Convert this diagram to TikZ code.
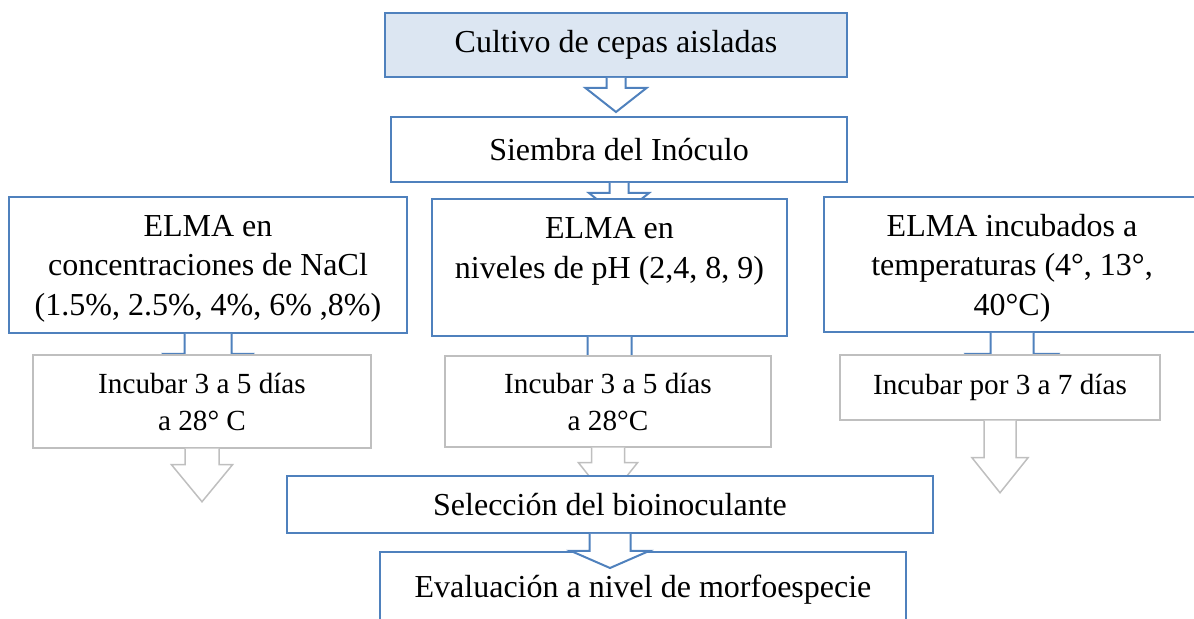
\documentclass[tikz,border=0pt]{standalone}
\usepackage{fontspec}
\setmainfont{Liberation Serif}
\usetikzlibrary{calc}

\definecolor{azul}{HTML}{4F81BD}
\definecolor{azulclaro}{HTML}{DCE6F2}
\definecolor{gris}{HTML}{BFBFBF}

\tikzset{
  caja/.style={draw=azul,line width=1pt,fill=white,align=center,inner sep=0pt},
  cajagris/.style={draw=gris,line width=0.75pt,fill=white,align=center,inner sep=0pt},
  flechaazul/.style={draw=azul,line width=1pt,fill=white},
  flechagris/.style={draw=gris,line width=0.75pt,fill=white},
  tgrande/.style={font=\fontsize{16}{20}\selectfont},
  tmedio/.style={font=\fontsize{16}{19.75}\selectfont},
  tchico/.style={font=\fontsize{14.6}{18.5}\selectfont}
}

% block arrow below a node: style, node, shaft half width, shaft length, head half width, head length
\newcommand{\flecha}[6]{%
  \draw[#1] ($(#2.south)+(-#3,0)$) -- ++(0,#4) -- ++(#3-#5,0) -- ++(#5,#6)
    -- ++(#5,-#6) -- ++(#3-#5,0) -- ++(0,-#4);}

\begin{document}
\begin{tikzpicture}[x=0.5pt,y=-0.5pt]
      \useasboundingbox (0,0) rectangle (1194,619);
      \clip (0,0) rectangle (1194,619);
      \node[caja,tgrande,fill=azulclaro,minimum width=231pt,minimum height=32pt] (cultivo) at (616,45) {Cultivo de cepas aisladas};
      \flecha{flechaazul}{cultivo}{9.5}{10}{30.5}{24}
      \node[caja,tgrande,minimum width=228pt,minimum height=32.5pt] (siembra) at (619,149.5) {Siembra del Inóculo};
      \flecha{flechaazul}{siembra}{9.5}{10}{30}{24}
      \node[caja,tmedio,minimum width=199pt,minimum height=68pt] (nacl) at (208,265) {ELMA en\\ concentraciones de NaCl\\ \smash{(1.5\%, 2.5\%, 4\%, 6\% ,8\%)}};
      \node[caja,tmedio,minimum width=177.5pt,minimum height=68.5pt] (ph) at (609.5,267.5) {ELMA en\\ niveles de pH (2,4, 8, 9)\\ ~};
      \node[caja,tmedio,minimum width=188pt,minimum height=67.5pt] (temp) at (1012,264.5) {ELMA incubados a\\ temperaturas (4°, 13°,\\ \smash{40°C)}};
      \flecha{flechaazul}{nacl}{23.5}{20}{44}{35}
      \flecha{flechaazul}{ph}{22}{20}{44}{35}
      \flecha{flechaazul}{temp}{21.5}{21}{45.5}{35}
      \node[cajagris,tchico,minimum width=169pt,minimum height=46.5pt] (incA) at (202,401.5) {Incubar 3 a 5 días\\ a 28° C};
      \node[cajagris,tchico,minimum width=163pt,minimum height=45.5pt] (incB) at (608,401.5) {Incubar 3 a 5 días\\ a 28°C};
      \node[cajagris,tchico,minimum width=160pt,minimum height=32.5pt] (incC) at (1000,387.5) {Incubar por 3 a 7 días};
      \flecha{flechagris}{incA}{17}{16}{30.5}{37}
      \flecha{flechagris}{incB}{16.5}{15}{29.5}{37}
      \flecha{flechagris}{incC}{16}{37}{28}{35}
      \node[caja,tgrande,minimum width=323pt,minimum height=28.5pt] (seleccion) at (610,504.5) {Selección del bioinoculante};
      \node[caja,tgrande,line width=0.8pt,minimum width=263pt,minimum height=38pt] (evaluacion) at (643,590) {Evaluación a nivel de morfoespecie};
      \flecha{flechaazul}{seleccion}{20.5}{17}{39}{17}
\end{tikzpicture}
\end{document}
